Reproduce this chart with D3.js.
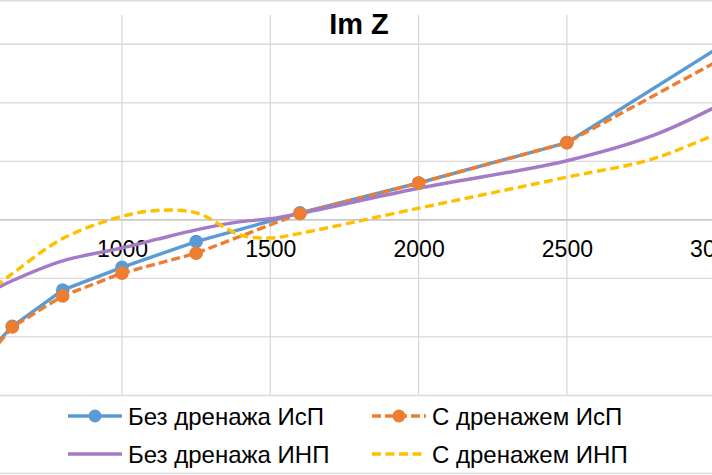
<!DOCTYPE html>
<html>
<head>
<meta charset="utf-8">
<script src="https://cdn.jsdelivr.net/npm/d3@7"></script>
<style>
  html, body { margin: 0; padding: 0; background: #fff; overflow: hidden; }
  svg { display: block; font-family: "Liberation Sans", Arial, sans-serif; }
</style>
</head>
<body>
<svg id="chart" width="712" height="475"></svg>
<script>
// ---- data ----
const chartTitle = "Im Z";
const freqIsp = [500, 630, 800, 1000, 1250, 1600, 2000, 2500, 3150];
const bezDrenIsp = [-252, -182, -120, -81, -37, 12, 63, 132, 338];
const sDrenIsp = [-262, -183, -130, -91, -57, 11, 63, 132, 310];
const freqInp = [500, 630, 800, 1000, 1120, 1250, 1400, 1500, 1600, 2000, 2500, 2800, 3150];
const bezDrenInp = [-137, -104, -70, -48, -33, -17, -3, 2, 11, 54, 101, 146, 232];
const sDrenInp = [-142, -92, -32, 6, 16, 12, -26, -31, -23, 20, 73, 106, 180];
const xGridValues = [500, 1000, 1500, 2000, 2500, 3000];
const xTickLabels = [1000, 1500, 2000, 2500, 3000];
const yTicks = [-300, -200, -100, 0, 100, 200, 300];
const seriesNames = ["Без дренажа ИсП", "С дренажем ИсП", "Без дренажа ИНП", "С дренажем ИНП"];

const series = [
  { name: seriesNames[0], xs: freqIsp, ys: bezDrenIsp, color: "#5B9BD5", dash: null, marker: true, curve: d3.curveLinear },
  { name: seriesNames[1], xs: freqIsp, ys: sDrenIsp, color: "#ED7D31", dash: "9,4", marker: true, curve: d3.curveLinear },
  { name: seriesNames[2], xs: freqInp, ys: bezDrenInp, color: "#A47BC6", dash: null, marker: false, curve: d3.curveCatmullRom.alpha(0.5) },
  { name: seriesNames[3], xs: freqInp, ys: sDrenInp, color: "#FFC000", dash: "9,4.5", marker: false, curve: d3.curveCatmullRom.alpha(0.5) }
];

const svg = d3.select("#chart");
const W = 712, H = 475;

const x = d3.scaleLinear().domain([1000, 3000]).range([122, 715.2]);
const y = d3.scaleLinear().domain([-300, 350]).range([395.5, 15]);

// chart border
svg.append("rect").attr("x", -5).attr("y", 0.8).attr("width", W + 10).attr("height", 472.5)
  .attr("fill", "none").attr("stroke", "#d9d9d9").attr("stroke-width", 1.3);

// gridlines
const grid = svg.append("g");
grid.selectAll("line.h").data(yTicks).join("line")
  .attr("x1", -10).attr("x2", W + 10)
  .attr("y1", d => y(d)).attr("y2", d => y(d))
  .attr("stroke", "#d9d9d9").attr("stroke-width", 1.3);
grid.selectAll("line.v").data(xGridValues).join("line")
  .attr("x1", d => x(d)).attr("x2", d => x(d))
  .attr("y1", y(350)).attr("y2", y(-300))
  .attr("stroke", "#d9d9d9").attr("stroke-width", 1.3);

// x axis at y = 0
const xAxis = d3.axisBottom(x).tickValues(xTickLabels).tickSize(0).tickPadding(0).tickFormat(d3.format("d"));
const gx = svg.append("g").attr("transform", `translate(0,${y(0)})`).call(xAxis);
gx.select(".domain").attr("d", `M-10,0H${W + 10}`).attr("stroke", "#bfbfbf").attr("stroke-width", 1.3);
gx.selectAll(".tick text")
  .attr("y", 37).attr("dy", null)
  .attr("font-size", 23).attr("fill", "#000")
  .attr("font-family", "Liberation Sans, Arial, sans-serif");

// title
svg.append("text").attr("x", 359).attr("y", 34.3).attr("text-anchor", "middle")
  .attr("font-size", 29).attr("font-weight", "bold").attr("fill", "#000").text(chartTitle);

// series
const plot = svg.append("g");
series.forEach(s => {
  const pts = s.xs.map((xv, i) => [xv, s.ys[i]]);
  const line = d3.line().x(d => x(d[0])).y(d => y(d[1])).curve(s.curve);
  plot.append("path").datum(pts)
    .attr("d", line).attr("fill", "none")
    .attr("stroke", s.color).attr("stroke-width", 3.4)
    .attr("stroke-dasharray", s.dash);
});
series.forEach(s => {
  if (!s.marker) return;
  const pts = s.xs.map((xv, i) => [xv, s.ys[i]]);
  plot.selectAll(null).data(pts).join("circle")
    .attr("cx", d => x(d[0])).attr("cy", d => y(d[1])).attr("r", 6.8)
    .attr("fill", s.color);
});

// legend
const legendPos = [
  { lx: 68, ly: 416 }, { lx: 372, ly: 416 },
  { lx: 68, ly: 454 }, { lx: 372, ly: 454 }
];
const lg = svg.append("g");
series.forEach((s, i) => {
  const p = legendPos[i];
  lg.append("line").attr("x1", p.lx).attr("x2", p.lx + 54).attr("y1", p.ly).attr("y2", p.ly)
    .attr("stroke", s.color).attr("stroke-width", 3.4).attr("stroke-dasharray", s.dash);
  if (s.marker) {
    lg.append("circle").attr("cx", p.lx + 27).attr("cy", p.ly).attr("r", 6.5).attr("fill", s.color);
  }
  lg.append("text").attr("x", p.lx + 60).attr("y", p.ly + 8.5)
    .attr("font-size", 24).attr("fill", "#000").text(s.name);
});
</script>
</body>
</html>
